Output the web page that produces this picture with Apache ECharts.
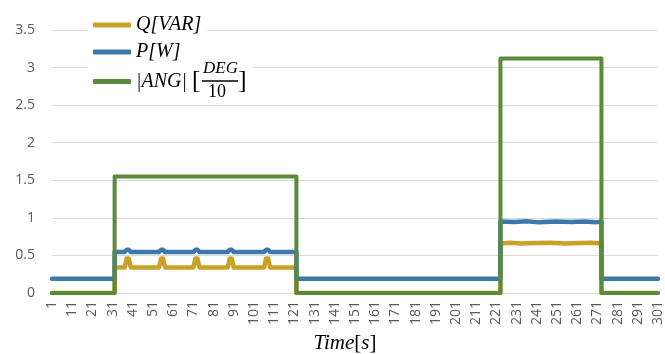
<!DOCTYPE html>
<html>
<head>
<meta charset="utf-8">
<script src="https://cdn.jsdelivr.net/npm/echarts@6/dist/echarts.min.js"></script>
<style>
    html, body { margin: 0; padding: 0; background: #fff; }
    #chart { width: 665px; height: 354px; }
</style>
</head>
<body>
<div id="chart"></div>
<script>
// time axis: one category per second, labelled every 10 s
var timeLabels = [];
for (var s = 1; s <= 301; s++) {
    timeLabels.push(String(s));
}
var yTicks = [0, 0.5, 1, 1.5, 2, 2.5, 3, 3.5];

// [time s, value] corner points
var qPoints = [
    [1, 0], [32, 0], [32, 0.34],
    [37, 0.34], [38, 0.46], [39, 0.46], [40, 0.34],
    [54, 0.34], [55, 0.46], [56, 0.46], [57, 0.34],
    [71, 0.34], [72, 0.46], [73, 0.46], [74, 0.34],
    [88, 0.34], [89, 0.46], [90, 0.46], [91, 0.34],
    [106, 0.34], [107, 0.46], [108, 0.46], [109, 0.34],
    [122, 0.34], [122, 0],
    [223, 0], [223, 0.66], [228, 0.67], [233, 0.66], [240, 0.665], [248, 0.67],
    [255, 0.66], [262, 0.665], [268, 0.67], [273, 0.66], [273, 0],
    [301, 0]
];
var pPoints = [
    [1, 0.19], [32, 0.19], [32, 0.545],
    [37, 0.545], [38, 0.575], [39, 0.575], [40, 0.545],
    [54, 0.545], [55, 0.575], [56, 0.575], [57, 0.545],
    [71, 0.545], [72, 0.575], [73, 0.575], [74, 0.545],
    [88, 0.545], [89, 0.575], [90, 0.575], [91, 0.545],
    [106, 0.545], [107, 0.575], [108, 0.575], [109, 0.545],
    [122, 0.545], [122, 0.19],
    [223, 0.19], [223, 0.95], [230, 0.945], [236, 0.955], [242, 0.94], [250, 0.95],
    [258, 0.945], [265, 0.95], [270, 0.94], [273, 0.95], [273, 0.19],
    [301, 0.19]
];
var angPoints = [
    [1, 0], [32, 0], [32, 1.55], [122, 1.55], [122, 0],
    [223, 0], [223, 3.12], [273, 3.12], [273, 0], [301, 0]
];

var colorQ = "#c9a227";
var colorP = "#3c78aa";
var colorAng = "#5a8a3a";

function toIndex(points) {
    var out = [];
    for (var i = 0; i < points.length; i++) {
        out.push([points[i][0] - 1, points[i][1]]);
    }
    return out;
}

var chart = echarts.init(document.getElementById("chart"));

var legendText = {
    fontFamily: "Liberation Serif",
    fontStyle: "italic",
    fontSize: 20,
    lineHeight: 22,
    color: "#000"
};

var option = {
    animation: false,
    backgroundColor: "#fff",
    grid: {
        left: 52,
        right: 7,
        top: 30,
        bottom: 61,
        outerBoundsMode: "none"
    },
    legend: [
        {
            data: ["Q[VAR]"],
            left: 88, top: 11,
            padding: [3, 6, 3, 5],
            backgroundColor: "#fff",
            icon: "roundRect", itemWidth: 38, itemHeight: 5,
            selectedMode: false,
            textStyle: legendText
        },
        {
            data: ["P[W]"],
            left: 88, top: 38,
            padding: [3, 6, 3, 5],
            backgroundColor: "#fff",
            icon: "roundRect", itemWidth: 38, itemHeight: 5,
            selectedMode: false,
            textStyle: legendText
        },
        {
            data: ["|ANG| [DEG/10]"],
            left: 88, top: 61,
            padding: [8, 6, 10, 5],
            backgroundColor: "#fff",
            icon: "roundRect", itemWidth: 38, itemHeight: 5,
            selectedMode: false,
            formatter: function () {
                return "{a||ANG| }{b|[}{sp|}{b|]}";
            },
            textStyle: {
                rich: {
                    a: legendText,
                    b: { fontFamily: "Liberation Serif", fontSize: 25, lineHeight: 22, color: "#000" },
                    sp: { width: 38, lineHeight: 22 }
                }
            }
        }
    ],
    graphic: [
        {
            type: "text", left: 203, top: 60, z: 100,
            style: { text: "DEG", font: "italic 17px 'Liberation Serif'", fill: "#000" }
        },
        {
            type: "line", z: 100,
            shape: { x1: 202, y1: 81, x2: 238, y2: 81 },
            style: { stroke: "#000", lineWidth: 1.5 }
        },
        {
            type: "text", left: 208, top: 83, z: 100,
            style: { text: "10", font: "18px 'Liberation Serif'", fill: "#000" }
        }
    ],
    xAxis: {
        type: "category",
        data: timeLabels,
        boundaryGap: false,
        axisLine: { lineStyle: { color: "#d9d9d9" } },
        axisTick: { show: false },
        axisLabel: {
            interval: 9,
            rotate: 90,
            margin: 8,
            fontFamily: "Open Sans",
            fontSize: 14,
            color: "#595959"
        },
        name: "{i|Time}{u|[}{i|s}{u|]}",
        nameLocation: "middle",
        nameGap: 38,
        nameTextStyle: {
            padding: [0, 20, 0, 0],
            rich: {
                i: { fontFamily: "Liberation Serif", fontStyle: "italic", fontSize: 21, color: "#000" },
                u: { fontFamily: "Liberation Serif", fontSize: 21, color: "#000" }
            }
        }
    },
    yAxis: {
        type: "value",
        min: yTicks[0],
        max: yTicks[yTicks.length - 1],
        interval: 0.5,
        axisLine: { show: false },
        axisTick: { show: false },
        splitLine: { lineStyle: { color: "#d9d9d9" } },
        axisLabel: {
            margin: 17,
            fontFamily: "Open Sans",
            fontSize: 14,
            color: "#595959"
        }
    },
    series: [
        {
            name: "Q[VAR]",
            type: "line",
            data: toIndex(qPoints),
            showSymbol: false,
            color: colorQ,
            lineStyle: { width: 4.5, color: colorQ, cap: "round", join: "round" }
        },
        {
            name: "P[W]",
            type: "line",
            data: toIndex(pPoints),
            showSymbol: false,
            color: colorP,
            lineStyle: { width: 4.5, color: colorP, cap: "round", join: "round" }
        },
        {
            name: "|ANG| [DEG/10]",
            type: "line",
            data: toIndex(angPoints),
            showSymbol: false,
            color: colorAng,
            lineStyle: { width: 4, color: colorAng, cap: "round", join: "round" }
        }
    ]
};

chart.setOption(option);
</script>
</body>
</html>
